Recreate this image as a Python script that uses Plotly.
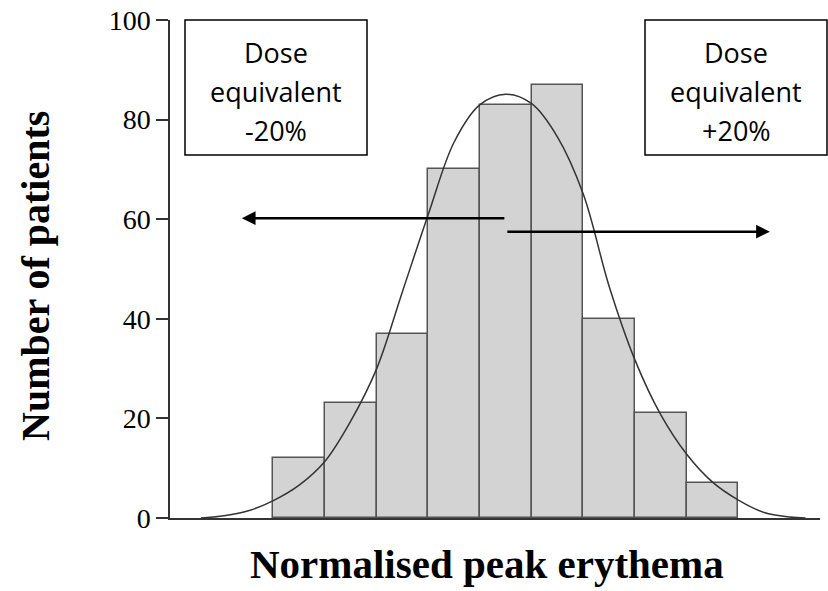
import plotly.graph_objects as go

# Histogram data (bins in bin-index units on the x axis)
bin_centers = [2.5, 3.5, 4.5, 5.5, 6.5, 7.5, 8.5, 9.5, 10.5]
patients = [12, 23, 37, 70, 83, 87, 40, 21, 7]

# Fitted curve
curve_x = [0.6, 1.0, 1.5, 2.0, 2.5, 3.0, 3.5, 4.0, 4.5, 5.0, 5.5, 6.0, 6.5,
           7.0, 7.5, 8.0, 8.5, 9.0, 9.5, 10.0, 10.5, 11.0, 11.5, 12.0, 12.3]
curve_y = [0.0, 0.4, 1.4, 3.5, 6.6, 11.4, 19.5, 30.0, 45.5, 61.0, 75.5, 83.0, 85.1,
           83.2, 76.5, 65.0, 46.5, 31.7, 20.7, 12.8, 7.2, 3.6, 1.1, 0.2, 0.0]

y_ticks = [0, 20, 40, 60, 80, 100]

# Arrows: (tail_x, tip_x, y)
left_arrow = (6.5, 1.39, 60.2)
right_arrow = (6.5, 11.61, 57.5)

box_lines = [["Dose", "equivalent", "-20%"], ["Dose", "equivalent", "+20%"]]
x_title = "Normalised peak erythema"
y_title = "Number of patients"

fig = go.Figure()
fig.add_trace(go.Bar(
    x=bin_centers, y=patients, width=1.0,
    marker=dict(color="#d3d3d3", line=dict(color="#555555", width=1.5)),
    showlegend=False, hoverinfo="skip"))
fig.add_trace(go.Scatter(
    x=curve_x, y=curve_y, mode="lines",
    line=dict(color="#333333", width=1.5, shape="spline", smoothing=1.0),
    showlegend=False, hoverinfo="skip"))

for tail, tip, yv in [left_arrow, right_arrow]:
    fig.add_annotation(x=tip, y=yv, ax=tail, ay=yv, xref="x", yref="y",
                       axref="x", ayref="y", showarrow=True, arrowhead=2,
                       arrowsize=1.1, arrowwidth=2.5, arrowcolor="black", text="")

W, H, L, R, T, B = 828, 591, 170, 8, 20, 73
pw, ph = W - L - R, H - T - B

def px(x):
    return (x - L) / pw

def py(y):
    return (H - B - y) / ph

boxes = [(185, 367, 20, 155), (645, 827, 20, 155)]
line_ys = [52, 91, 130]
for (x0, x1, y0, y1), lines in zip(boxes, box_lines):
    fig.add_shape(type="rect", xref="paper", yref="paper",
                  x0=px(x0), x1=px(x1), y0=py(y1), y1=py(y0),
                  line=dict(color="black", width=1.5), fillcolor="white", layer="above")
    for txt, ly in zip(lines, line_ys):
        fig.add_annotation(xref="paper", yref="paper", x=px((x0 + x1) / 2), y=py(ly),
                           text=txt, showarrow=False, align="center",
                           font=dict(family="Open Sans, Lato, sans-serif", size=27, color="black"),
                           xanchor="center", yanchor="middle")

fig.add_annotation(xref="paper", yref="paper", x=px(487), y=py(564), text="<b>%s</b>" % x_title,
                   showarrow=False, xanchor="center", yanchor="middle",
                   font=dict(family="Liberation Serif, Times New Roman, serif", size=41, color="black"))
fig.add_annotation(xref="paper", yref="paper", x=px(35), y=py(276), text="<b>%s</b>" % y_title,
                   showarrow=False, xanchor="center", yanchor="middle", textangle=-90,
                   font=dict(family="Liberation Serif, Times New Roman, serif", size=40, color="black"))

fig.update_layout(
    width=W, height=H,
    margin=dict(l=L, r=R, t=T, b=B, autoexpand=False),
    paper_bgcolor="white", plot_bgcolor="white",
    bargap=0,
    xaxis=dict(range=[0, 12.58], showticklabels=False, ticks="", showgrid=False,
               zeroline=False, showline=True, linecolor="#333333", linewidth=1.5,
               automargin=False),
    yaxis=dict(range=[0, 100], tickvals=y_ticks, ticks="outside", ticklen=12,
               tickwidth=1.5, tickcolor="#333333", showgrid=False, zeroline=False,
               showline=True, linecolor="#333333", linewidth=1.5, automargin=False,
               tickfont=dict(family="Liberation Serif, Times New Roman, serif",
                             size=28, color="black")),
)

fig.write_html("out.html", config={"displayModeBar": False},
               post_script="document.body.style.margin='0';document.body.style.overflow='hidden';")
